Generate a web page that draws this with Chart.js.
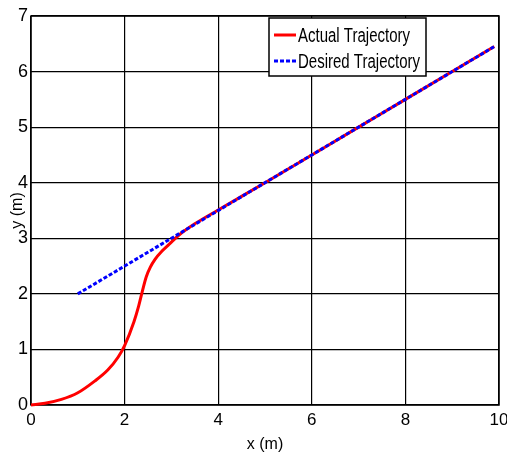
<!DOCTYPE html>
<html>
<head>
<meta charset="utf-8">
<script src="https://cdn.jsdelivr.net/npm/chart.js@4"></script>
<style>
	html, body { margin: 0; padding: 0; background: #fff; }
	#wrap { width: 507px; height: 453px; }
</style>
</head>
<body>
<div id="wrap"><canvas id="myChart" width="507" height="453"></canvas></div>
<script>
// actual robot path (x, y in metres)
var actualX = [0, 0.3, 0.65, 1.0, 1.36, 1.64, 1.86, 2.0, 2.2, 2.3, 2.38, 2.46, 2.55, 2.65, 2.8, 3.0, 3.15, 3.5, 4.0, 5, 6, 7, 8, 9, 9.9];
var actualY = [0, 0.03, 0.1, 0.22, 0.43, 0.63, 0.86, 1.07, 1.5, 1.78, 2.05, 2.3, 2.48, 2.62, 2.77, 2.93, 3.05, 3.26, 3.51, 4.0, 4.5, 5.0, 5.5, 6.0, 6.45];
// reference path
var desiredX = [1, 9.9];
var desiredY = [2, 6.45];
var xTicks = [0, 2, 4, 6, 8, 10];
var yTicks = [0, 1, 2, 3, 4, 5, 6, 7];

var FONT = "'Liberation Sans', Arial, sans-serif";

function toPoints(xs, ys) {
	var pts = [];
	for (var i = 0; i < xs.length; i++) pts.push({ x: xs[i], y: ys[i] });
	return pts;
}

// full black frame around the plot area
var framePlugin = {
	id: "frame",
	beforeDatasetsDraw: function (chart) {
		var a = chart.chartArea, c = chart.ctx;
		c.save();
		c.strokeStyle = "#000";
		c.lineWidth = 1.5;
		c.strokeRect(a.left, a.top, a.right - a.left, a.bottom - a.top);
		c.restore();
	},
};

// boxed legend sitting inside the plot, top right
var boxLegend = {
	id: "boxLegend",
	afterDraw: function (chart) {
		var a = chart.chartArea, c = chart.ctx;
		var x0 = a.right - 230, y0 = a.top + 2, w = 157, h = 58;
		c.save();
		c.fillStyle = "#fff";
		c.fillRect(x0, y0, w, h);
		c.strokeStyle = "#000";
		c.lineWidth = 1.5;
		c.strokeRect(x0, y0, w, h);
		c.textBaseline = "middle";
		var items = [chart.data.datasets[0], chart.data.datasets[1]];
		for (var i = 0; i < items.length; i++) {
			var ds = items[i];
			var yy = y0 + 17 + i * 26;
			c.strokeStyle = ds.borderColor;
			c.lineWidth = 3;
			c.setLineDash(ds.borderDash || []);
			c.beginPath();
			c.moveTo(x0 + 5, yy);
			c.lineTo(x0 + 27, yy);
			c.stroke();
			c.setLineDash([]);
			// squeezed text, like the narrow font of the original
			c.save();
			c.translate(x0 + 29, yy);
			c.scale(0.75, 1);
			c.font = "20px " + FONT;
			c.fillStyle = "#000";
			c.fillText(ds.label, 0, 1);
			c.restore();
		}
		c.restore();
	},
};

document.addEventListener("DOMContentLoaded", function () {
	var ctx = document.getElementById("myChart").getContext("2d");
	var myChart = new Chart(ctx, {
		type: "line",
		data: {
			datasets: [
				{
					label: "Actual Trajectory",
					data: toPoints(actualX, actualY),
					borderColor: "#ff0000",
					borderWidth: 3,
					pointRadius: 0,
					cubicInterpolationMode: "monotone",
					fill: false,
					clip: 5,
					order: 2,
				},
				{
					label: "Desired Trajectory",
					data: toPoints(desiredX, desiredY),
					borderColor: "#0000ff",
					borderWidth: 3,
					borderDash: [4, 2],
					pointRadius: 0,
					fill: false,
					clip: 5,
					order: 1,
				},
			],
		},
		options: {
			responsive: false,
			animation: false,
			maintainAspectRatio: false,
			layout: { padding: { top: 16, right: 8, left: 0, bottom: 0 } },
			plugins: { legend: { display: false }, tooltip: { enabled: false } },
			scales: {
				x: {
					type: "linear",
					min: 0,
					max: 10,
					afterBuildTicks: function (s) {
						s.ticks = xTicks.map(function (v) { return { value: v }; });
					},
					afterFit: function (s) {
						s.height = 48;
						s.paddingLeft = 0;
						s.paddingRight = 0;
					},
					grid: { color: "#000", lineWidth: 1.2, drawTicks: false },
					border: { display: false },
					ticks: { color: "#000", padding: 5, maxRotation: 0, font: { family: FONT, size: 17 } },
					title: {
						display: true,
						text: "x (m)",
						color: "#000",
						padding: 0,
						font: { family: FONT, size: 16, lineHeight: 1 },
					},
				},
				y: {
					type: "linear",
					min: 0,
					max: 7,
					afterBuildTicks: function (s) {
						s.ticks = yTicks.map(function (v) { return { value: v }; });
					},
					afterFit: function (s) {
						s.width = 31;
						s.paddingTop = 0;
						s.paddingBottom = 0;
					},
					grid: { color: "#000", lineWidth: 1.2, drawTicks: false },
					border: { display: false },
					ticks: { color: "#000", padding: 3, font: { family: FONT, size: 18 } },
					title: {
						display: true,
						text: "y (m)",
						color: "#000",
						padding: { top: 10, bottom: 0 },
						font: { family: FONT, size: 16, lineHeight: 1 },
					},
				},
			},
		},
		plugins: [framePlugin, boxLegend],
	});
});
</script>
</body>
</html>
